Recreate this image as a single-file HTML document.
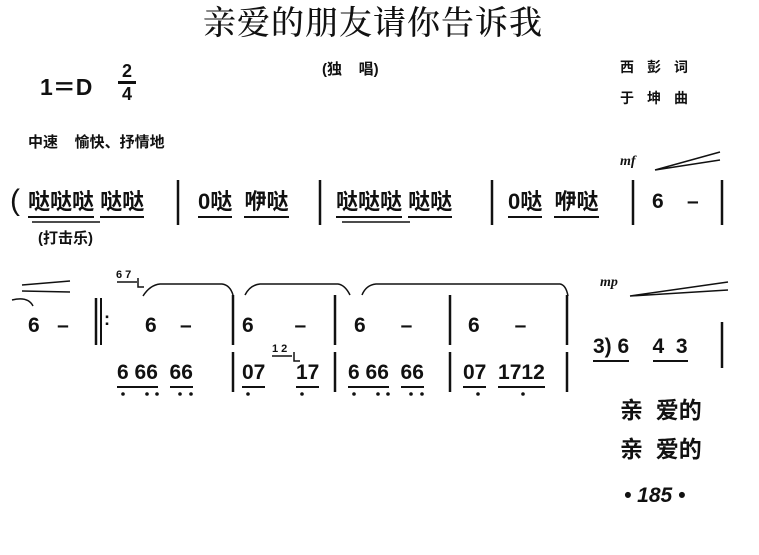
<!DOCTYPE html>
<html><head><meta charset="utf-8"><style>
body{margin:0;width:759px;height:555px;background:#fff;position:relative;overflow:hidden;font-family:"Liberation Sans","Noto Sans CJK SC",sans-serif;color:#111}
.t{position:absolute;white-space:nowrap;line-height:1}
.b{font-weight:bold}
.u{border-bottom:2px solid #111;padding-bottom:2px}
</style></head><body>
<div class="t" style="left:203px;top:4px;font-size:33px;letter-spacing:1px;font-family:'Noto Serif CJK SC','Noto Sans CJK SC',serif;font-weight:500">亲爱的朋友请你告诉我</div>
<div class="t b" style="left:322px;top:62px;font-size:15px">(独&nbsp;&nbsp;&nbsp;&nbsp;唱)</div>
<div class="t b" style="left:40px;top:76px;font-size:23px">1＝D</div>
<div class="t b" style="left:118px;top:62px;font-size:18px;text-align:center;width:18px">2<div style="border-top:3px solid #111;margin:1px 0"></div>4</div>
<div class="t b" style="left:620px;top:60px;font-size:14px;letter-spacing:13px">西彭词</div>
<div class="t b" style="left:620px;top:91px;font-size:14px;letter-spacing:13px">于坤曲</div>
<div class="t b" style="left:28px;top:135px;font-size:15px">中速&nbsp;&nbsp;&nbsp;&nbsp;愉快、抒情地</div>
<div class="t b" style="left:620px;top:155px;font-size:14px;font-style:italic;font-family:'Liberation Serif',serif">mf</div>
<div class="t" style="left:10px;top:186px;font-size:30px">(</div>
<div class="t b" style="left:28px;top:191px;font-size:22px"><span class="u">哒哒哒</span>&nbsp;<span class="u">哒哒</span></div>
<div class="t b" style="left:198px;top:191px;font-size:22px"><span class="u">0哒</span>&nbsp;&nbsp;<span class="u">咿哒</span></div>
<div class="t b" style="left:336px;top:191px;font-size:22px"><span class="u">哒哒哒</span>&nbsp;<span class="u">哒哒</span></div>
<div class="t b" style="left:508px;top:191px;font-size:22px"><span class="u">0哒</span>&nbsp;&nbsp;<span class="u">咿哒</span></div>
<div class="t b" style="left:652px;top:191px;font-size:21px">6&nbsp;&nbsp;&nbsp;&nbsp;–</div>
<div class="t b" style="left:38px;top:231px;font-size:15px">(打击乐)</div>
<div class="t b" style="left:28px;top:315px;font-size:21px">6&nbsp;&nbsp;&nbsp;–</div>
<div class="t b" style="left:104px;top:310px;font-size:18px">:</div>
<div class="t b" style="left:116px;top:270px;font-size:11px">6 7</div>
<div class="t b" style="left:145px;top:315px;font-size:21px">6&nbsp;&nbsp;&nbsp;&nbsp;–</div>
<div class="t b" style="left:242px;top:315px;font-size:21px">6&nbsp;&nbsp;&nbsp;&nbsp;&nbsp;&nbsp;&nbsp;–</div>
<div class="t b" style="left:354px;top:315px;font-size:21px">6&nbsp;&nbsp;&nbsp;&nbsp;&nbsp;&nbsp;–</div>
<div class="t b" style="left:468px;top:315px;font-size:21px">6&nbsp;&nbsp;&nbsp;&nbsp;&nbsp;&nbsp;–</div>
<div class="t b" style="left:117px;top:362px;font-size:21px"><span class="u">6&nbsp;66</span>&nbsp;&nbsp;<span class="u">66</span></div>
<div class="t b" style="left:242px;top:362px;font-size:21px"><span class="u">07</span></div>
<div class="t b" style="left:272px;top:344px;font-size:11px">1 2</div>
<div class="t b" style="left:296px;top:362px;font-size:21px"><span class="u">17</span></div>
<div class="t b" style="left:348px;top:362px;font-size:21px"><span class="u">6&nbsp;66</span>&nbsp;&nbsp;<span class="u">66</span></div>
<div class="t b" style="left:463px;top:362px;font-size:21px"><span class="u">07</span>&nbsp;&nbsp;<span class="u">1712</span></div>
<div class="t b" style="left:600px;top:276px;font-size:14px;font-style:italic;font-family:'Liberation Serif',serif">mp</div>
<div class="t b" style="left:593px;top:336px;font-size:21px"><span class="u">3)&nbsp;6</span>&nbsp;&nbsp;&nbsp;&nbsp;<span class="u">4&nbsp;&nbsp;3</span></div>
<div class="t" style="left:620px;top:399px;font-size:23px;font-weight:bold">亲&nbsp;&nbsp;爱的</div>
<div class="t" style="left:620px;top:438px;font-size:23px;font-weight:bold">亲&nbsp;&nbsp;爱的</div>
<div class="t b" style="left:624px;top:485px;font-size:21px;font-style:italic">•&nbsp;185&nbsp;•</div>
<svg width="759" height="555" style="position:absolute;left:0;top:0" fill="none" stroke="#111">
<g stroke-width="2.5">
<line x1="178" y1="180" x2="178" y2="225"/><line x1="320" y1="180" x2="320" y2="225"/>
<line x1="492" y1="180" x2="492" y2="225"/><line x1="633" y1="180" x2="633" y2="225"/>
<line x1="722" y1="180" x2="722" y2="225"/>
<line x1="96" y1="298" x2="96" y2="345"/><line x1="101" y1="298" x2="101" y2="345" stroke-width="2"/>
<line x1="233" y1="295" x2="233" y2="345"/><line x1="335" y1="295" x2="335" y2="345"/>
<line x1="450" y1="295" x2="450" y2="345"/><line x1="567" y1="295" x2="567" y2="345"/>
<line x1="233" y1="352" x2="233" y2="392"/><line x1="335" y1="352" x2="335" y2="392"/>
<line x1="450" y1="352" x2="450" y2="392"/><line x1="567" y1="352" x2="567" y2="392"/>
<line x1="722" y1="322" x2="722" y2="368"/>
</g>
<g stroke-width="1.5">
<path d="M143 296 Q150 285 160 284 L222 284 Q230 285 233 295"/>
<path d="M245 295 Q250 285 260 284 L338 284 Q345 285 350 295"/>
<path d="M362 295 Q366 285 376 284 L560 284 Q566 285 568 296"/>
<path d="M655 170 L720 152 M655 170 L720 160"/>
<path d="M630 296 L728 282 M630 296 L728 290"/>
<path d="M22 285 L70 281 M22 291 L70 292"/>
<path d="M12 300 Q28 296 33 306"/>
<path d="M138 278 L138 287 L144 287"/><path d="M294 352 L294 361 L300 361"/>
<line x1="117" y1="282" x2="137" y2="282"/><line x1="272" y1="356" x2="292" y2="356"/>
</g>
<g fill="#111" stroke="none">
<circle cx="123" cy="394" r="1.8"/><circle cx="147" cy="394" r="1.8"/><circle cx="157" cy="394" r="1.8"/><circle cx="180" cy="394" r="1.8"/><circle cx="191" cy="394" r="1.8"/>
<circle cx="248" cy="394" r="1.8"/><circle cx="302" cy="394" r="1.8"/>
<circle cx="354" cy="394" r="1.8"/><circle cx="378" cy="394" r="1.8"/><circle cx="388" cy="394" r="1.8"/><circle cx="411" cy="394" r="1.8"/><circle cx="422" cy="394" r="1.8"/>
<circle cx="478" cy="394" r="1.8"/><circle cx="523" cy="394" r="1.8"/>
</g>
<line x1="32" y1="222" x2="100" y2="222" stroke-width="1.5"/>
<line x1="342" y1="222" x2="410" y2="222" stroke-width="1.5"/>
</svg>
</body></html>
